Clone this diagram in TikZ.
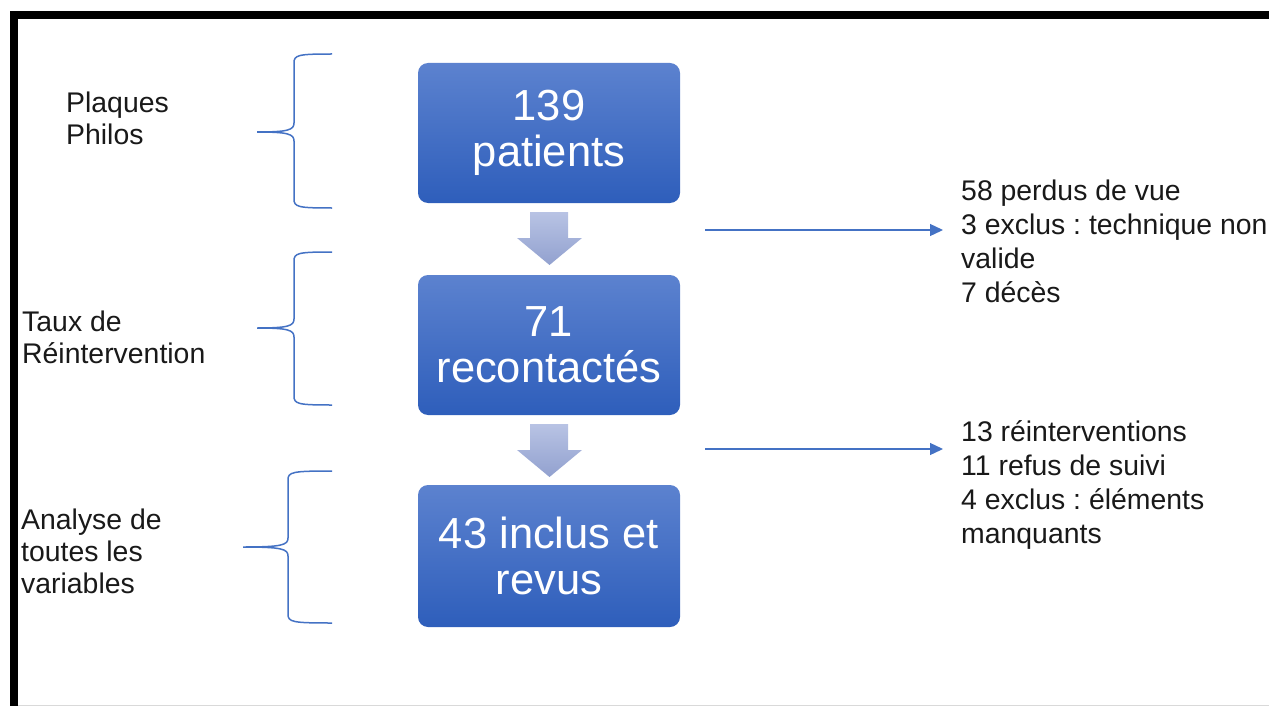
\documentclass[tikz,border=0pt]{standalone}
\usepackage{fontspec}
\setmainfont{Liberation Sans}
\usetikzlibrary{arrows.meta}
\definecolor{boxtop}{RGB}{92,130,207}
\definecolor{boxbot}{RGB}{46,94,187}
\definecolor{arrtop}{RGB}{184,195,228}
\definecolor{arrbot}{RGB}{146,161,207}
\definecolor{linkblue}{RGB}{68,114,196}
\frenchspacing

\begin{document}
\begin{tikzpicture}[x=1pt, y=-1pt,
		stage/.style={rounded corners=10pt, top color=boxtop, bottom color=boxbot, text=white, minimum width=262pt, minimum height=140pt, align=center, inner sep=0pt, font=\fontsize{43.5}{46}\selectfont},
		side/.style={anchor=north west, align=left, inner sep=0pt, text=black!90, font=\fontsize{28.4}{32}\selectfont},
		note/.style={side, font=\fontsize{28.4}{34}\selectfont}]
		\useasboundingbox (0,0) rectangle (1269,706);
		% frame
		\fill (10,11) rectangle (1269,19);
		\fill (10,11) rectangle (18,706);
		\draw[black!15] (18,705) -- (1269,705);
		% boxes
		\node[stage] (b1) at (549,133) {139\\patients};
		\node[stage] (b2) at (549,345) {71\\recontactés};
		\node[stage, minimum height=142pt] (b3) at (549,556) {43 inclus et\\revus};
		% block arrows
		\foreach \ya/\yb/\yc in {212/238/265, 424/450/477}
			\path[top color=arrtop, bottom color=arrbot] (530,\ya) -- (568,\ya) -- (568,\yb) -- (582,\yb) -- (549.5,\yc) -- (517,\yb) -- (530,\yb) -- cycle;
		% left labels
		\node[side] (l1) at (66,92) {Plaques\\Philos};
		\node[side] (l2) at (22,311) {Taux de\\Réintervention};
		\node[side] (l3) at (21,509) {Analyse de\\toutes les\\variables};
		% braces
		\foreach \vx/\tx/\ya/\ym/\yb in {294/257/54/132/208, 294/257/252/328/405, 288/243/471/547/623}
			\draw[linkblue, line width=1.5pt] (332,\ya) .. controls (\vx+4,\ya) and (\vx,\ya+1) .. (\vx,\ya+9) -- (\vx,\ym-9) .. controls (\vx,\ym-2) and (\vx-6,\ym) .. (\tx,\ym) .. controls (\vx-6,\ym) and (\vx,\ym+2) .. (\vx,\ym+9) -- (\vx,\yb-9) .. controls (\vx,\yb-1) and (\vx+4,\yb) .. (332,\yb);
		% right notes
		\node[note] (r1) at (961,180) {58 perdus de vue\\3 exclus : technique non\\valide\\7 décès};
		\node[note] (r2) at (961,420) {13 réinterventions\\11 refus de suivi\\4 exclus : éléments\\manquants};
		\coordinate (o1) at (705,230);
		\coordinate (t1) at (943,230);
		\coordinate (o2) at (705,449);
		\coordinate (t2) at (943,449);
		\draw[linkblue, line width=1.3pt, -{Triangle[length=13pt, width=12pt]}] (o1) -- (t1);
		\draw[linkblue, line width=1.3pt, -{Triangle[length=13pt, width=12pt]}] (o2) -- (t2);
	\end{tikzpicture}
\end{document}
